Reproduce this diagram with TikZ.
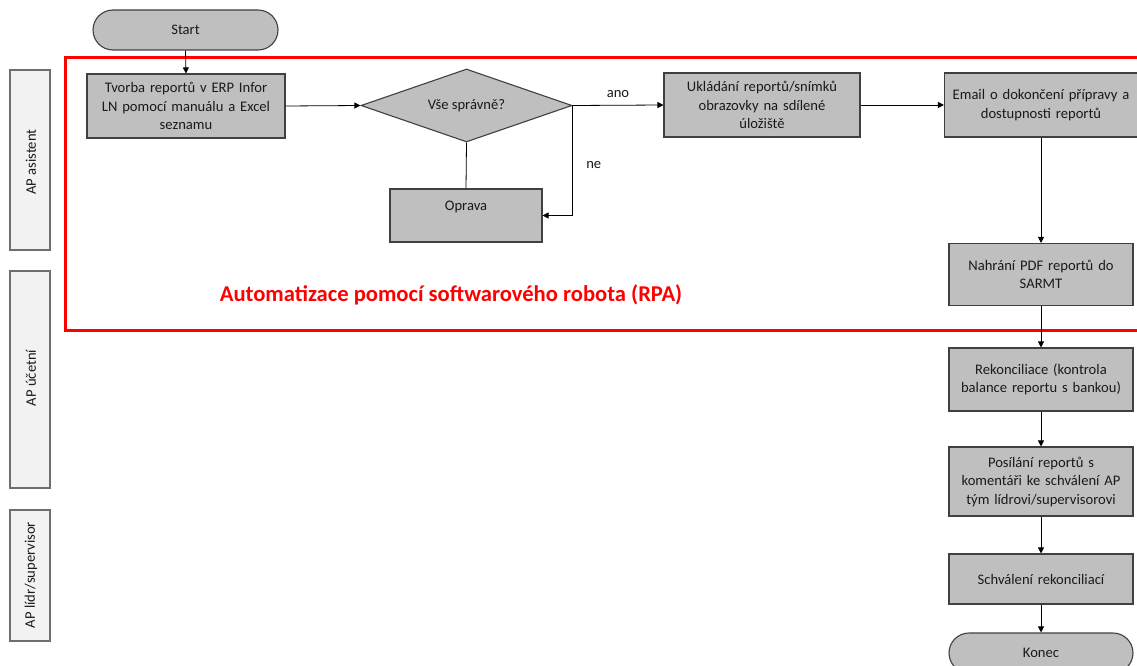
\documentclass[tikz,border=0pt]{standalone}
\usepackage{fontspec}
\setmainfont{Carlito}
\usetikzlibrary{shapes.geometric,arrows.meta}
\definecolor{boxgray}{RGB}{191,191,191}
\definecolor{edgegray}{RGB}{64,64,64}
\definecolor{txt}{RGB}{26,26,26}
\definecolor{lanefill}{RGB}{242,242,242}
\definecolor{laneedge}{RGB}{110,110,110}
\begin{document}
\begin{tikzpicture}[x=1pt,y=-1pt,
  every node/.style={font=\fontsize{14.6}{18.5}\selectfont, text=txt},
  proc/.style={draw=edgegray, line width=1.1pt, fill=boxgray, rectangle, align=center, inner sep=2pt},
  term/.style={draw=edgegray, line width=1.1pt, fill=boxgray, rectangle, rounded corners=20pt},
  decide/.style={draw=edgegray, line width=1.1pt, fill=boxgray, diamond, aspect=2.9, inner sep=0pt},
  lane/.style={draw=laneedge, line width=1.1pt, fill=lanefill, rectangle},
  flow/.style={draw=black, line width=0.8pt, -{Triangle[length=6pt,width=6pt]}},
  plain/.style={draw=black, line width=0.8pt}]
\useasboundingbox (0,0) rectangle (1137,666);
\clip (0,0) rectangle (1137,666);
\fill[white] (0,0) rectangle (1137,666);

% swimlane headers
\node[lane, minimum width=40pt, minimum height=180pt] (l1) at (30,160) {};
\node[rotate=90] at (31,162) {AP asistent};
\node[lane, minimum width=40pt, minimum height=217pt] (l2) at (30,379.5) {};
\node[rotate=90] at (31,378) {AP účetní};
\node[lane, minimum width=40pt, minimum height=131pt] (l3) at (30,575.5) {};
\node[rotate=90] at (31,575) {AP lídr/supervisor};

% automated region
\draw[red, line width=3pt] (65,58) rectangle (1160,330);
\node[text=red, font=\fontsize{22.6}{26}\selectfont\bfseries] (rpa) at (451,295) {Automatizace pomocí softwarového robota (RPA)};

% flow nodes
\node[term, minimum width=185pt, minimum height=40pt] (start) at (185.5,30) {Start};
\node[proc, minimum width=198pt, minimum height=64pt, text width=190pt] (b1) at (186,106) {Tvorba reportů v ERP Infor\\LN pomocí manuálu a Excel\\seznamu};
\node[decide, minimum width=211pt, minimum height=73pt] (dec) at (466.5,105.5) {Vše správně?};
\node[proc, minimum width=152pt, minimum height=53pt] (opr) at (466,215.5) {Oprava\\\mbox{}};
\node[proc, minimum width=196pt, minimum height=64pt, text width=188pt] (b3) at (762,105) {Ukládání reportů/snímků\\obrazovky na sdílené\\úložiště};
\node[proc, minimum width=193pt, minimum height=64pt, text width=185pt] (b4) at (1041,105) {Email o dokončení přípravy a\\dostupnosti reportů};
\node[proc, minimum width=184pt, minimum height=62pt, text width=176pt] (b5) at (1041,274.5) {Nahrání PDF reportů do\\SARMT};
\node[proc, minimum width=184pt, minimum height=63pt, text width=176pt] (b6) at (1041,379.5) {Rekonciliace (kontrola\\balance reportu s bankou)};
\node[proc, minimum width=184pt, minimum height=69pt, text width=176pt] (b7) at (1041,481.5) {Posílání reportů s\\komentáři ke schválení AP\\tým lídrovi/supervisorovi};
\node[proc, minimum width=184pt, minimum height=50pt, text width=176pt] (b8) at (1041,579) {Schválení rekonciliací};
\node[term, minimum width=184pt, minimum height=40pt] (end) at (1041,653) {Konec};

% connectors
\draw[flow] (start.south) -- (b1.north);
\draw[flow] (b1.east) -- (dec.west);
\draw[flow] (dec.east) -- node[above=4pt, pos=0.5] (ano) {ano} (b3.west);
\draw[flow] (dec.east) |- node[pos=0.27, right=10pt] (ne) {ne} (opr.east);
\draw[plain] (dec.south) -- (opr.north);
\draw[flow] (b3.east) -- (b4.west);
\draw[flow] (b4.south) -- (b5.north);
\draw[flow] (b5.south) -- (b6.north);
\draw[flow] (b6.south) -- (b7.north);
\draw[flow] (b7.south) -- (b8.north);
\draw[flow] (b8.south) -- (end.north);
\end{tikzpicture}
\end{document}
